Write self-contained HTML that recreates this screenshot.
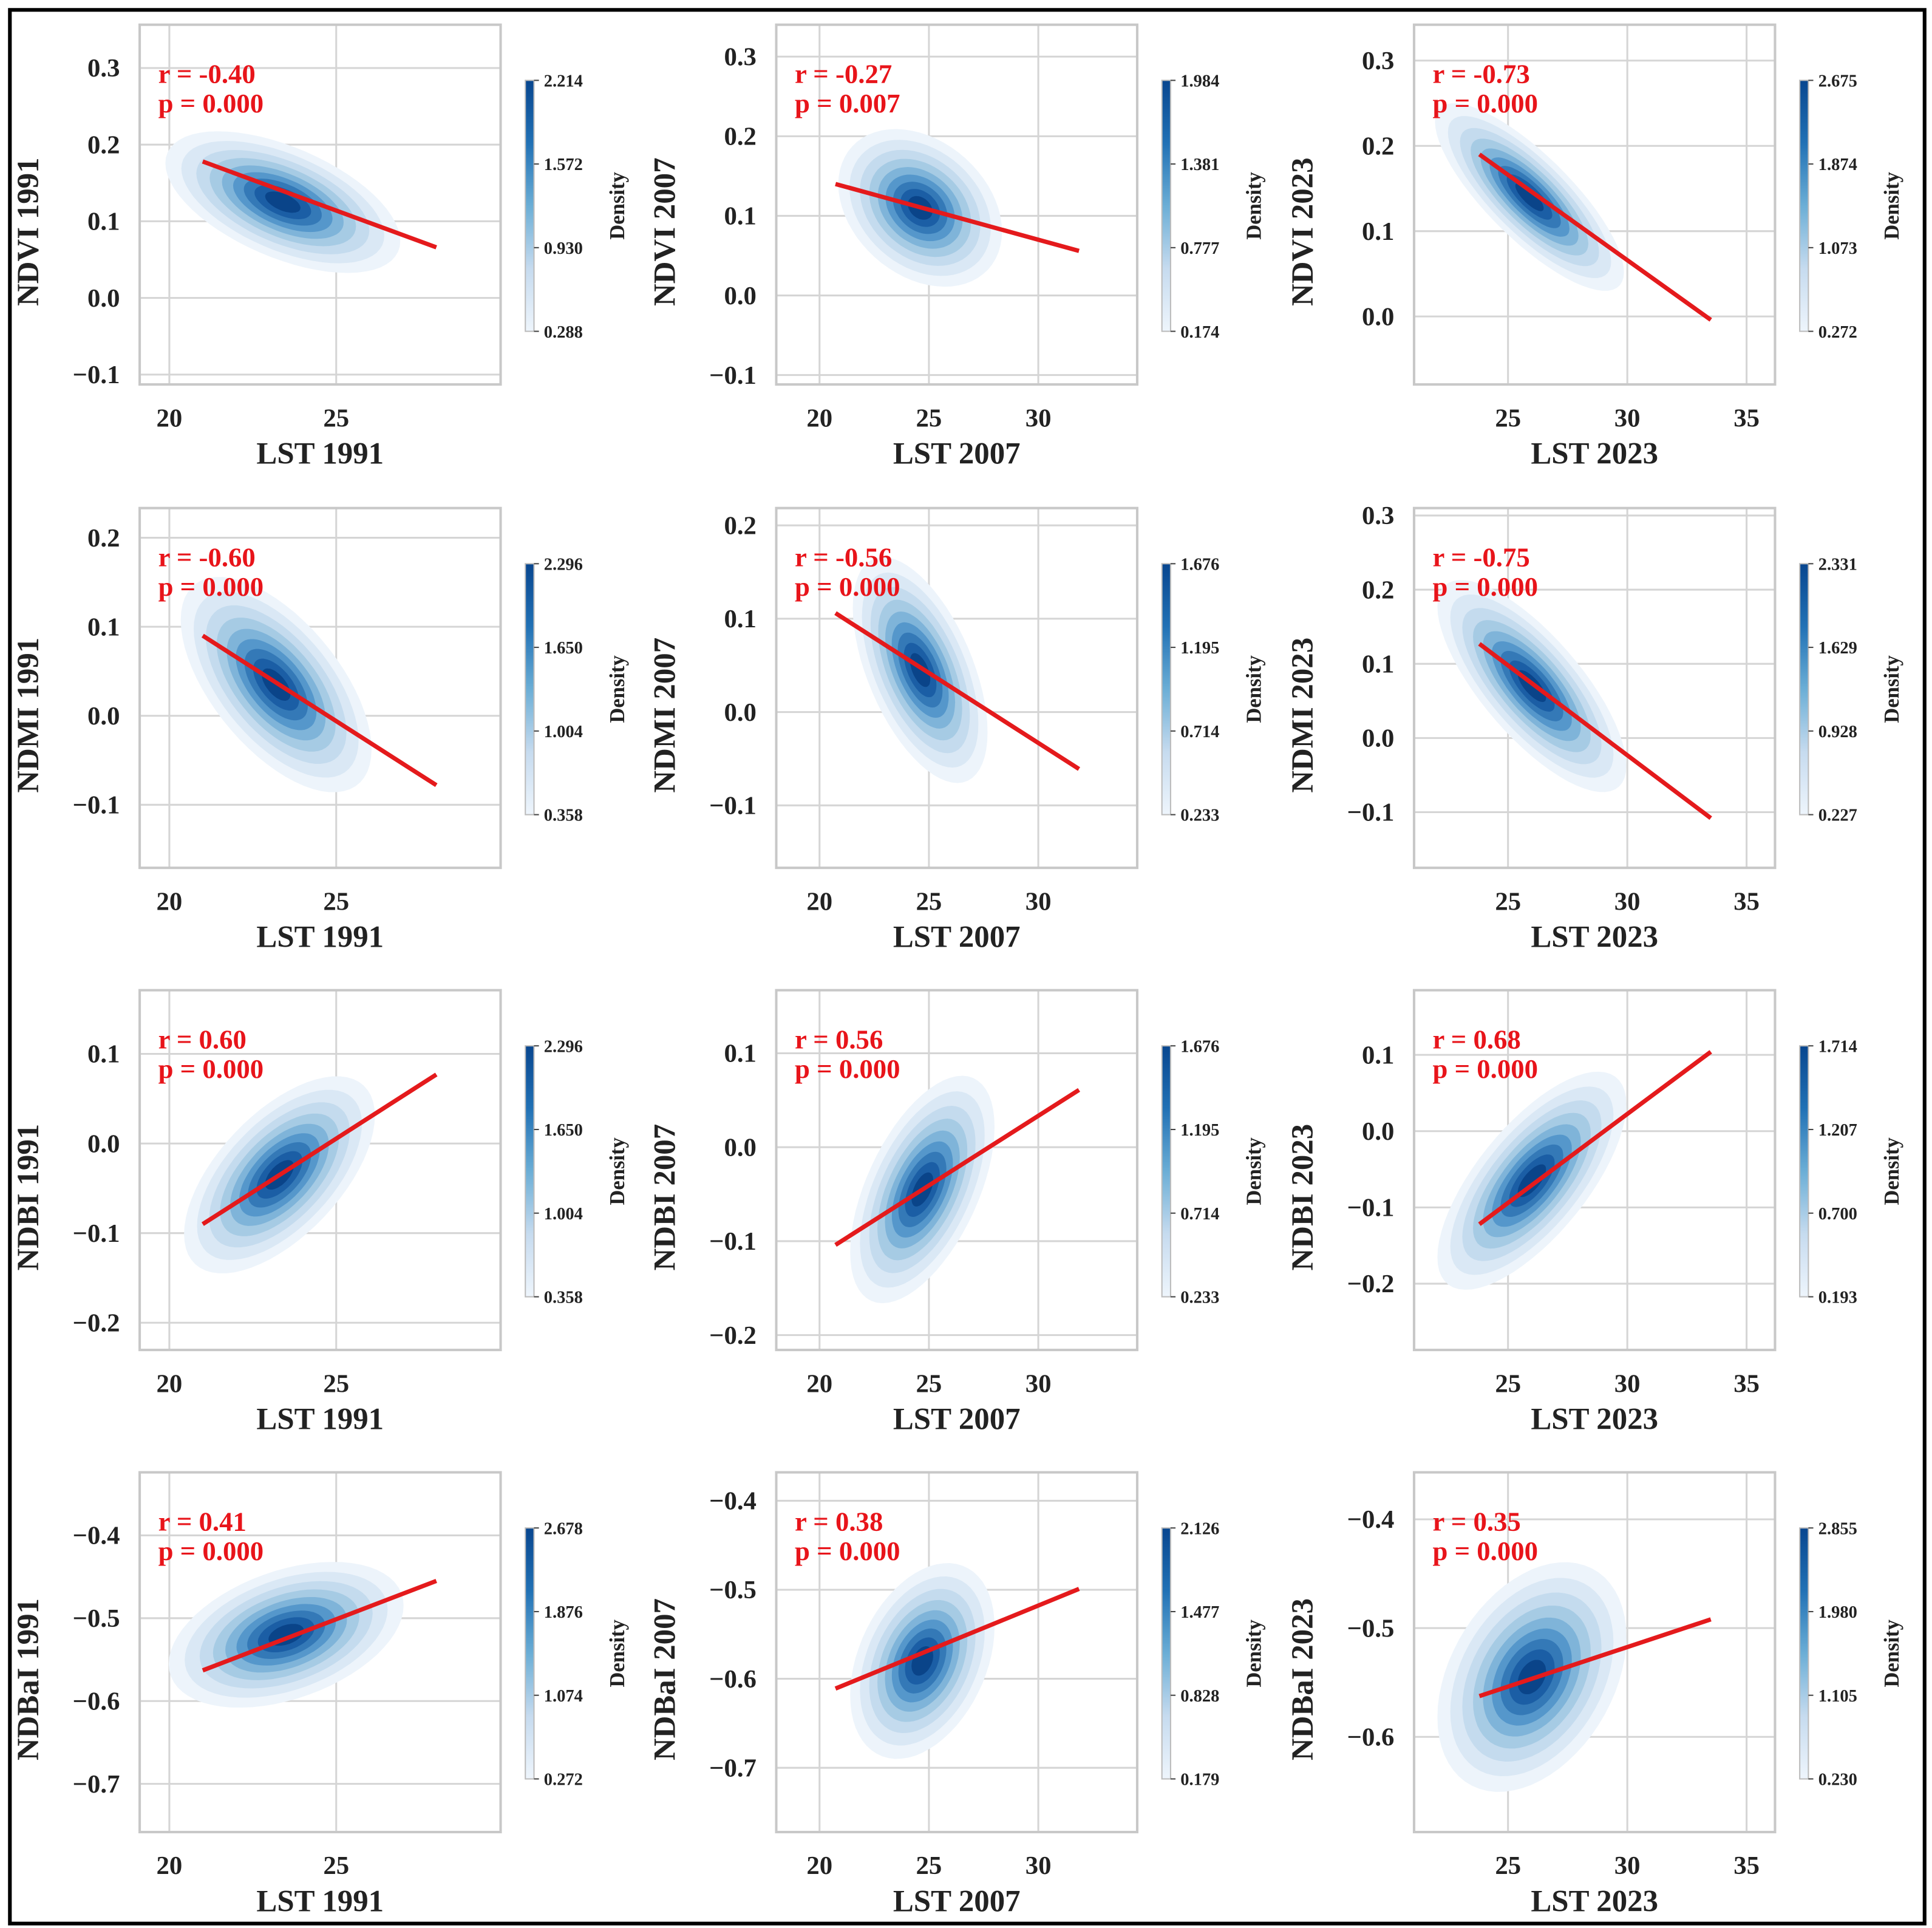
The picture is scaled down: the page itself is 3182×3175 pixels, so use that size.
<!DOCTYPE html>
<html><head><meta charset="utf-8"><style>
html,body{margin:0;padding:0;background:#fff}
svg{display:block}
text{font-family:"Liberation Serif",serif;font-weight:bold}
</style></head><body>
<svg id="fig" width="3182" height="3175" viewBox="0 0 1563 1559.6" preserveAspectRatio="none" xmlns="http://www.w3.org/2000/svg">
<rect x="8" y="8" width="1549" height="1548" fill="#fff" stroke="#000" stroke-width="3"/>
</svg>
<script>
// ---- data ----
const rowNames = ["NDVI","NDMI","NDBI","NDBaI"];
const years = ["1991","2007","2023"];
const xTickVals = [[20,25],[20,25,30],[25,30,35]];
const yTickVals = [
 [[0.3,0.2,0.1,0.0,-0.1],[0.3,0.2,0.1,0.0,-0.1],[0.3,0.2,0.1,0.0]],
 [[0.2,0.1,0.0,-0.1],[0.2,0.1,0.0,-0.1],[0.3,0.2,0.1,0.0,-0.1]],
 [[0.1,0.0,-0.1,-0.2],[0.1,0.0,-0.1,-0.2],[0.1,0.0,-0.1,-0.2]],
 [[-0.4,-0.5,-0.6,-0.7],[-0.4,-0.5,-0.6,-0.7],[-0.4,-0.5,-0.6]]
];
const rValues = [["-0.40","-0.27","-0.73"],["-0.60","-0.56","-0.75"],["0.60","0.56","0.68"],["0.41","0.38","0.35"]];
const pValues = [["0.000","0.007","0.000"],["0.000","0.000","0.000"],["0.000","0.000","0.000"],["0.000","0.000","0.000"]];
const lineX0 = [[21,20.73,23.8],[21,20.73,23.8],[21,20.73,23.8],[21,20.73,23.8]];
const lineX1 = [[28,31.86,33.5],[28,31.86,33.5],[28,31.86,33.5],[28,31.86,33.5]];
const lineY0 = [[0.178,0.140,0.190],[0.090,0.106,0.127],[-0.090,-0.104,-0.122],[-0.563,-0.611,-0.5625]];
const lineY1 = [[0.066,0.056,-0.004],[-0.078,-0.061,-0.108],[0.077,0.061,0.104],[-0.455,-0.499,-0.492]];
const blobCx = [[23.4,24.6,25.9],[23.2,24.6,26.0],[23.3,24.7,26.0],[23.5,24.7,26.0]];
const blobCy = [[0.125,0.11,0.14],[0.035,0.045,0.07],[-0.035,-0.045,-0.065],[-0.52,-0.58,-0.545]];
const blobSx = [[1.6,1.7,1.8],[1.3,1.4,1.8],[1.3,1.5,1.8],[1.6,1.5,1.8]];
const blobSy = [[0.042,0.045,0.05],[0.055,0.055,0.065],[0.05,0.055,0.065],[0.04,0.05,0.048]];
const blobRho = [[-0.55,-0.3,-0.8],[-0.6,-0.55,-0.75],[0.6,0.55,0.7],[0.4,0.35,0.35]];
const cbTicks = [
 [["2.214","1.572","0.930","0.288"],["1.984","1.381","0.777","0.174"],["2.675","1.874","1.073","0.272"]],
 [["2.296","1.650","1.004","0.358"],["1.676","1.195","0.714","0.233"],["2.331","1.629","0.928","0.227"]],
 [["2.296","1.650","1.004","0.358"],["1.676","1.195","0.714","0.233"],["1.714","1.207","0.700","0.193"]],
 [["2.678","1.876","1.074","0.272"],["2.126","1.477","0.828","0.179"],["2.855","1.980","1.105","0.230"]]
];
// ---- layout (pixel geometry, not data) ----
const colLeft=[113,628,1144], plotW=292, plotH=291, rowTop=[20,411,801,1191];
const xAx=[{v:20,p:137,k:27},{v:20,p:663,k:17.7},{v:25,p:1220,k:19.3}];
const yAx=[
 [{v:0,p:241,k:620},{v:0,p:239,k:644},{v:0,p:256,k:690}],
 [{v:0,p:579,k:720},{v:0,p:576,k:755},{v:0,p:597,k:600}],
 [{v:0,p:925,k:725},{v:0,p:928,k:760},{v:0,p:915,k:617}],
 [{v:-0.5,p:1309,k:670},{v:-0.5,p:1286,k:720},{v:-0.5,p:1317,k:880}]
];
const levelK=[2.2,1.9,1.62,1.37,1.14,0.93,0.73,0.53,0.33];
const levelC=["#edf4fb","#dae8f5","#c4dbee","#a6cbe4","#7fb4d9","#5597cb","#3479b7","#1b5ea5","#0a4489"];
const NS="http://www.w3.org/2000/svg";
const svg=document.getElementById('fig');
function mk(tag,attrs,parent){const e=document.createElementNS(NS,tag);for(const k in attrs)e.setAttribute(k,attrs[k]);(parent||svg).appendChild(e);return e;}
function fmt(v){const s=Math.abs(v).toFixed(1);return (v<0?"\u2212":"")+s;}
const defs=mk('defs',{});
const lg=mk('linearGradient',{id:'cbg',x1:0,y1:1,x2:0,y2:0},defs);
["#eef5fc","#c6dbef","#6baed6","#2171b5","#08468f"].forEach((c,i)=>mk('stop',{offset:(i/4),'stop-color':c},lg));

for(let r=0;r<4;r++)for(let c=0;c<3;c++){
 const L=colLeft[c],T=rowTop[r];
 const xs=v=>xAx[c].p+(v-xAx[c].v)*xAx[c].k;
 const ys=v=>yAx[r][c].p-(v-yAx[r][c].v)*yAx[r][c].k;
 const g=mk('g',{});
 
 
 const clip=mk('clipPath',{id:'cl'+r+c},defs);mk('rect',{x:L,y:T,width:plotW,height:plotH},clip);
 xTickVals[c].forEach(v=>{const gl=mk('line',{x1:xs(v),x2:xs(v),y1:T,y2:T+plotH,stroke:'#d5d5d5','stroke-width':1.5},g);
  
  const t=mk('text',{x:xs(v),y:T+plotH+34,'text-anchor':'middle','font-size':21,fill:'#222'},g);t.textContent=v;
  });
 yTickVals[r][c].forEach(v=>{const gl=mk('line',{x1:L,x2:L+plotW,y1:ys(v),y2:ys(v),stroke:'#d5d5d5','stroke-width':1.5},g);
  
  const t=mk('text',{x:L-16,y:ys(v)+7,'text-anchor':'end','font-size':21,fill:'#222'},g);t.textContent=fmt(v);
  });
 const dg=mk('g',{'clip-path':'url(#cl'+r+c+')'},g);
 
 const sx=blobSx[r][c],sy=blobSy[r][c],rho=blobRho[r][c],cx=blobCx[r][c],cy=blobCy[r][c];
 levelK.forEach((k,i)=>{let d="";for(let a=0;a<=64;a++){const t=a/64*2*Math.PI;const u=Math.cos(t),w=Math.sin(t);
   const dx=sx*u*k, dy=sy*(rho*u+Math.sqrt(1-rho*rho)*w)*k;d+=(a?"L":"M")+xs(cx+dx).toFixed(1)+","+ys(cy+dy).toFixed(1);}
  const p=mk('path',{d:d+"Z",fill:levelC[i]},dg);
  });
 const fr=mk('rect',{x:L,y:T,width:plotW,height:plotH,fill:'none',stroke:'#c8c8c8','stroke-width':2},g);
 
 const rl=mk('line',{x1:xs(lineX0[r][c]),y1:ys(lineY0[r][c]),x2:xs(lineX1[r][c]),y2:ys(lineY1[r][c]),stroke:'#e41a1c','stroke-width':3.5},g);
 
 const t1=mk('text',{x:L+15,y:T+47,'font-size':22,fill:'#e8141a'},g);t1.textContent="r = "+rValues[r][c];
 
 const t2=mk('text',{x:L+15,y:T+71,'font-size':22,fill:'#e8141a'},g);t2.textContent="p = "+pValues[r][c];
 
 const xt=mk('text',{x:L+plotW/2,y:T+plotH+64,'text-anchor':'middle','font-size':25,fill:'#222'},g);xt.textContent="LST "+years[c];
 
 const yx=L-82,yy=T+plotH/2+22;
 const yt=mk('text',{x:yx,y:yy,'text-anchor':'middle','font-size':25,fill:'#222',transform:'rotate(-90 '+yx+' '+yy+')'},g);yt.textContent=rowNames[r]+" "+years[c];
 
 const cx0=L+312,cy0=T+45,ch=203;
 const cb=mk('rect',{x:cx0,y:cy0,width:7,height:ch,fill:'url(#cbg)',stroke:'#bbb','stroke-width':1},g);
 
 cbTicks[r][c].forEach((s,i)=>{const y=cy0+i*ch/3;
  mk('line',{x1:cx0+7,x2:cx0+11,y1:y,y2:y,stroke:'#444','stroke-width':1},g);
  const t=mk('text',{x:cx0+15,y:y+5,'font-size':14,fill:'#222'},g);t.textContent=s;
  });
 const dx=cx0+80,dy=cy0+ch/2;
 const dt=mk('text',{x:dx,y:dy,'text-anchor':'middle','font-size':17,fill:'#222',transform:'rotate(-90 '+dx+' '+dy+')'},g);dt.textContent="Density";
 
}
</script>
</body></html>
